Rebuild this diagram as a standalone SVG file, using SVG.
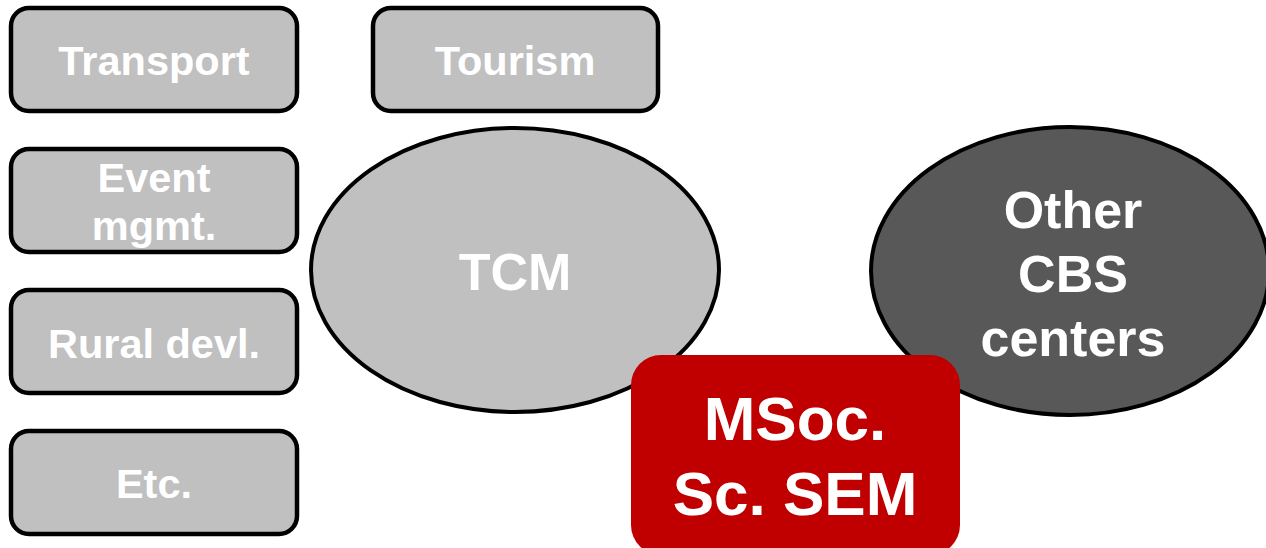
<svg xmlns="http://www.w3.org/2000/svg" width="1266" height="548" viewBox="0 0 1266 548">
<style>
.box{fill:#c0c0c0;stroke:#000;stroke-width:4.5}
.t{font-family:"Liberation Sans",Arial,sans-serif;font-weight:bold;fill:#fff;text-anchor:middle}
.s{font-size:41.5px}
.l{font-size:52px}
.x{font-size:62px}
</style>
<rect width="1266" height="548" fill="#fff"/>
<g id="transport"><rect class="box" x="11" y="8" width="286" height="103" rx="18"/><text class="t s" x="154" y="75">Transport</text></g>
<g id="tourism"><rect class="box" x="373" y="8" width="285" height="103" rx="18"/><text class="t s" x="515" y="75">Tourism</text></g>
<g id="event"><rect class="box" x="11" y="149" width="286" height="103" rx="18"/><text class="t s" x="154" y="192">Event</text><text class="t s" x="154" y="240">mgmt.</text></g>
<g id="rural"><rect class="box" x="11" y="290" width="286" height="103" rx="18"/><text class="t s" x="154" y="358">Rural devl.</text></g>
<g id="etc"><rect class="box" x="11" y="431" width="286" height="103" rx="18"/><text class="t s" x="154" y="498">Etc.</text></g>
<g id="tcm"><ellipse cx="515" cy="270" rx="204" ry="142" fill="#c0c0c0" stroke="#000" stroke-width="4"/><text class="t l" x="515" y="290">TCM</text></g>
<g id="other"><ellipse cx="1070" cy="271" rx="199" ry="144" fill="#585858" stroke="#000" stroke-width="4"/><text class="t l" x="1073" y="228">Other</text><text class="t l" x="1073" y="292">CBS</text><text class="t l" x="1073" y="356">centers</text></g>
<g id="msoc"><rect x="631" y="355" width="329" height="200" rx="30" fill="#c00000"/><text class="t x" x="795" y="440">MSoc.</text><text class="t x" x="795" y="515">Sc. SEM</text></g>
<g id="connectors"></g>
</svg>
